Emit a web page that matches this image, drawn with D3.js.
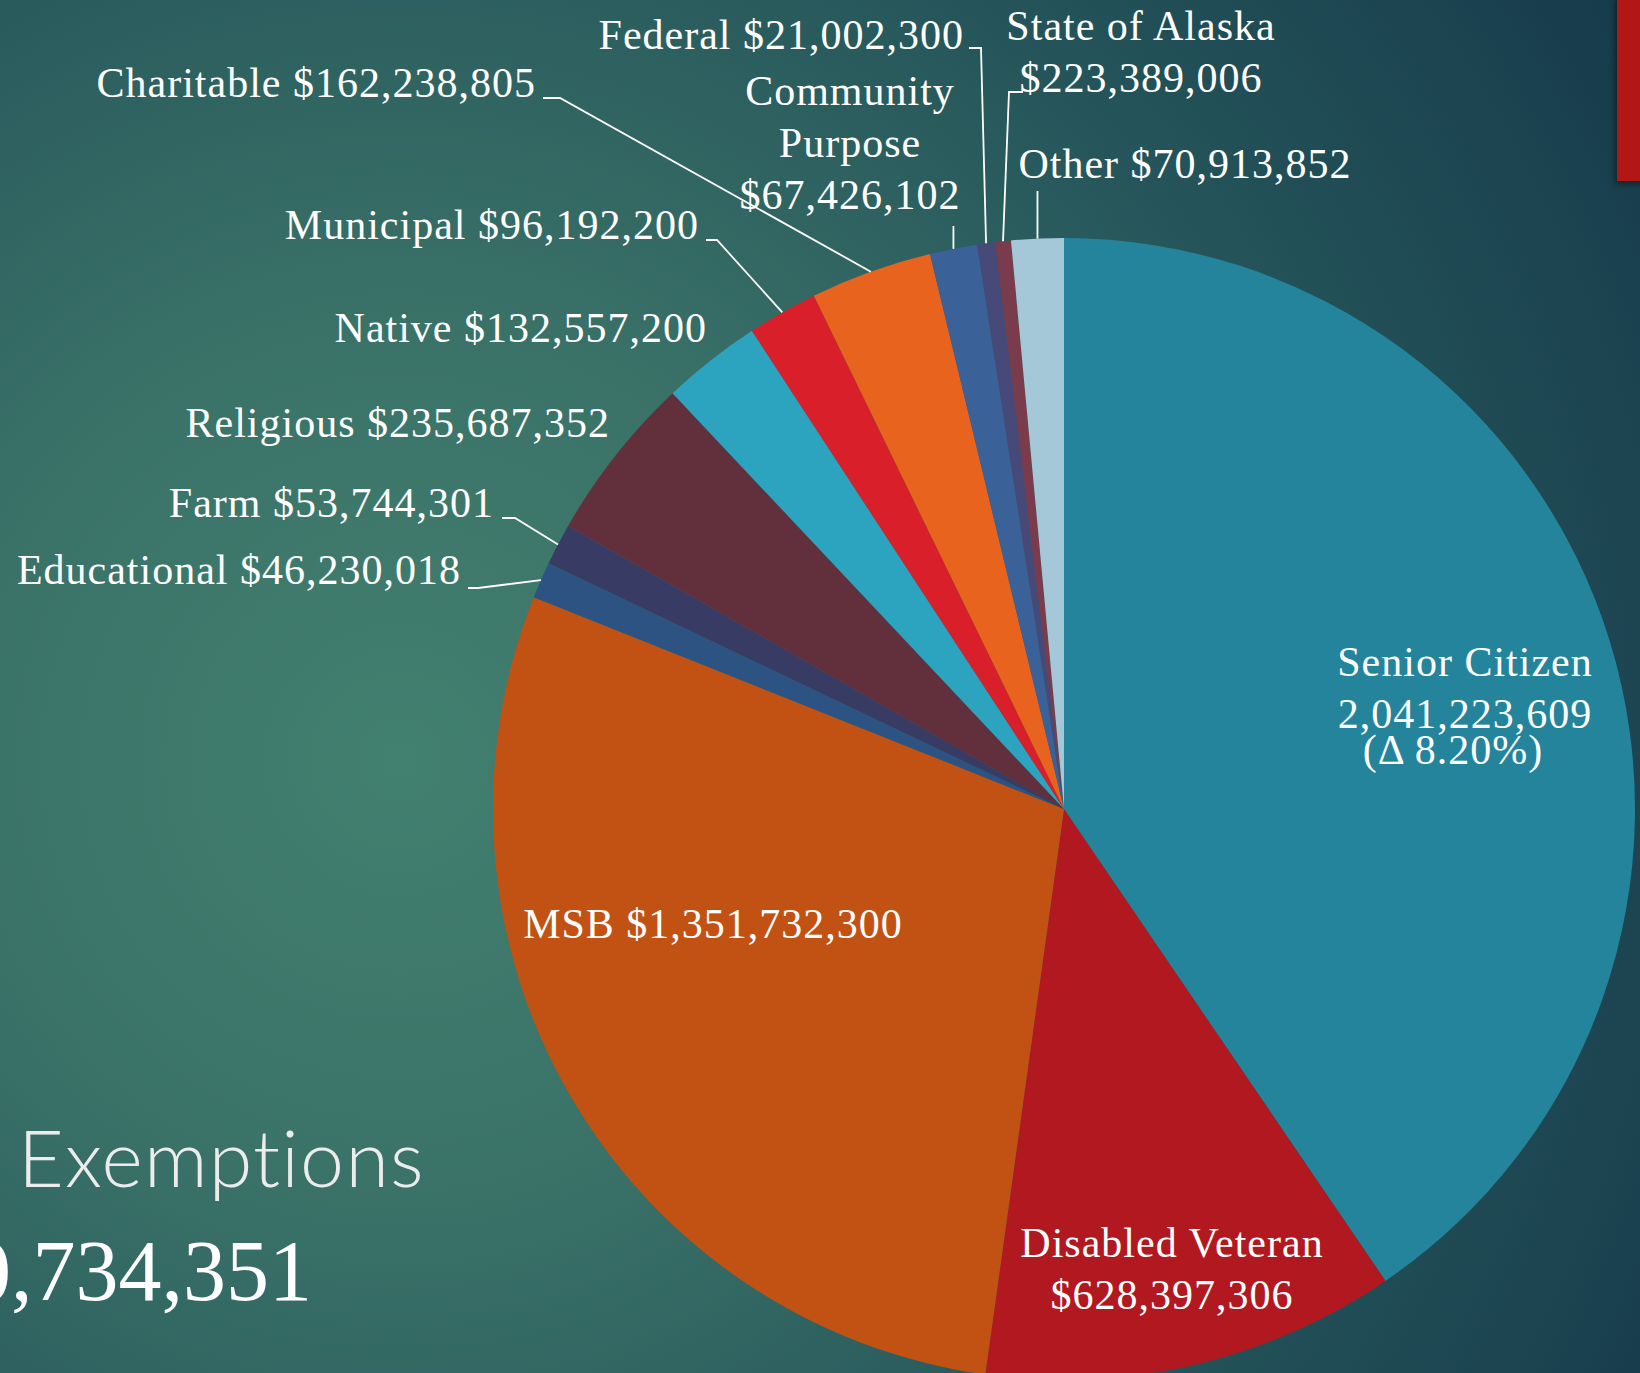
<!DOCTYPE html>
<html>
<head>
<meta charset="utf-8">
<script src="https://cdn.jsdelivr.net/npm/d3@7"></script>
<style>
  html, body { margin: 0; padding: 0; background: #1d4a52; overflow: hidden; }
  svg { display: block; }
</style>
</head>
<body>
<svg id="chart"></svg>
<script>
// exemption categories, clockwise from 12 o'clock
const categories = ['Senior Citizen', 'Disabled Veteran', 'MSB', 'Educational', 'Farm', 'Religious',
  'Native', 'Municipal', 'Charitable', 'Community Purpose', 'Federal', 'State of Alaska', 'Other'];
// amounts as printed on the labels ($)
const amounts = [2041223609, 628397306, 1351732300, 46230018, 53744301, 235687352,
  132557200, 96192200, 162238805, 67426102, 21002300, 223389006, 70913852];
// wedge sizes as drawn ($ millions) - State of Alaska is only a sliver
const sliceValues = [1997, 578, 1423, 51, 58, 233, 139, 98, 170, 66, 25, 22, 73];
const sliceColors = ['#23849c', '#b2181f', '#c25214', '#2d5383', '#383b63', '#62303d',
  '#2ca3bf', '#d81f2a', '#e8641e', '#3a6299', '#474a78', '#7a3b4c', '#a5c8d8'];
const seniorChange = '(Δ 8.20%)';
const titleText = 'Exemptions';

const width = 1640;
const height = 1373;
const cx = 1064, cy = 809, radius = 571;

const fmtMoney = d3.format('$,');
const fmtPlain = d3.format(',');

// text of each label, one entry per line
const labelLines = [
  [categories[0], fmtPlain(amounts[0]), seniorChange],
  [categories[1], fmtMoney(amounts[1])],
  [categories[2] + ' ' + fmtMoney(amounts[2])],
  [categories[3] + ' ' + fmtMoney(amounts[3])],
  [categories[4] + ' ' + fmtMoney(amounts[4])],
  [categories[5] + ' ' + fmtMoney(amounts[5])],
  [categories[6] + ' ' + fmtMoney(amounts[6])],
  [categories[7] + ' ' + fmtMoney(amounts[7])],
  [categories[8] + ' ' + fmtMoney(amounts[8])],
  ['Community', 'Purpose', fmtMoney(amounts[9])],
  [categories[10] + ' ' + fmtMoney(amounts[10])],
  [categories[11], fmtMoney(amounts[11])],
  [categories[12] + ' ' + fmtMoney(amounts[12])]
];

// where each label sits (x, baselines) and how its leader runs
const labelLayout = [
  {x: 1465, ys: [676, 728, 764], xs: [1465, 1465, 1453], anchor: 'middle'},
  {x: 1172, ys: [1257, 1309], anchor: 'middle'},
  {x: 713, ys: [938], anchor: 'middle'},
  {x: 461, ys: [584], anchor: 'end', leader: {x0: 468, y0: 588, x1: 478}},
  {x: 494, ys: [517], anchor: 'end', leader: {x0: 502, y0: 518, x1: 515}},
  {x: 610, ys: [437], anchor: 'end'},
  {x: 707, ys: [342], anchor: 'end'},
  {x: 699, ys: [239], anchor: 'end', leader: {x0: 706, y0: 240, x1: 717}},
  {x: 536, ys: [97], anchor: 'end', leader: {x0: 543, y0: 98, x1: 560}},
  {x: 850, ys: [105, 157, 209], anchor: 'middle', leader: {y0: 226, vertical: true}},
  {x: 964, ys: [49], anchor: 'end', leader: {x0: 969, y0: 48, x1: 981}},
  {x: 1141, ys: [40, 92], anchor: 'middle', leader: {x0: 1023, y0: 92, x1: 1009}},
  {x: 1185, ys: [178], anchor: 'middle', leader: {y0: 191, vertical: true}}
];

const svg = d3.select('#chart')
  .attr('width', width)
  .attr('height', height);

// background
const defs = svg.append('defs');
const bg = defs.append('radialGradient')
  .attr('id', 'bg')
  .attr('gradientUnits', 'userSpaceOnUse')
  .attr('cx', 400).attr('cy', 760).attr('r', 1450);
bg.append('stop').attr('offset', 0).attr('stop-color', '#42806f');
bg.append('stop').attr('offset', 0.3).attr('stop-color', '#3a7268');
bg.append('stop').attr('offset', 0.65).attr('stop-color', '#25555a');
bg.append('stop').attr('offset', 1).attr('stop-color', '#163a4b');

const shadow = defs.append('filter').attr('id', 'shadow')
  .attr('x', '-50%').attr('y', '-10%').attr('width', '200%').attr('height', '130%');
shadow.append('feDropShadow')
  .attr('dx', -2).attr('dy', 3).attr('stdDeviation', 3)
  .attr('flood-color', '#000').attr('flood-opacity', 0.45);

svg.append('rect')
  .attr('width', width).attr('height', height)
  .attr('fill', 'url(#bg)');

// red accent bar top right
svg.append('rect')
  .attr('x', 1617).attr('y', -5)
  .attr('width', 40).attr('height', 186)
  .attr('fill', '#b21616')
  .attr('filter', 'url(#shadow)');

// pie
const pie = d3.pie().sort(null).value(d => d.value);
const arcs = pie(sliceValues.map((v, i) => ({value: v, name: categories[i], color: sliceColors[i]})));
const arc = d3.arc().innerRadius(0).outerRadius(radius);

const g = svg.append('g').attr('transform', `translate(${cx},${cy})`);
g.selectAll('path')
  .data(arcs)
  .enter().append('path')
  .attr('d', arc)
  .attr('fill', d => d.data.color);

// point on the rim at the middle of a wedge
function rimPoint(d) {
  const a = (d.startAngle + d.endAngle) / 2;
  return [cx + radius * Math.sin(a), cy - radius * Math.cos(a)];
}

// leader lines
const leaders = svg.append('g')
  .attr('fill', 'none')
  .attr('stroke', '#ffffff')
  .attr('stroke-width', 1.8);

labelLayout.forEach((lay, i) => {
  if (!lay.leader) return;
  const p = rimPoint(arcs[i]);
  const l = lay.leader;
  const path = l.vertical
    ? `M${p[0]},${l.y0}L${p[0]},${p[1]}`
    : `M${l.x0},${l.y0}H${l.x1}L${p[0]},${p[1]}`;
  leaders.append('path').attr('d', path);
});

// labels
const labels = svg.append('g')
  .attr('font-family', '"Liberation Serif", "Times New Roman", serif')
  .attr('font-size', 42)
  .attr('letter-spacing', 1)
  .attr('fill', '#ffffff');

labelLayout.forEach((lay, i) => {
  labelLines[i].forEach((line, j) => {
    labels.append('text')
      .attr('x', lay.xs ? lay.xs[j] : lay.x)
      .attr('y', lay.ys[j])
      .attr('text-anchor', lay.anchor)
      .text(line);
  });
});

// slide title fragment and total
svg.append('text')
  .attr('x', 18).attr('y', 1187)
  .attr('font-family', 'Lato, "Open Sans", sans-serif')
  .attr('font-weight', 300)
  .attr('font-size', 79)
  .attr('letter-spacing', 1.2)
  .attr('fill', '#ececec')
  .text(titleText);

svg.append('text')
  .attr('x', 312).attr('y', 1300)
  .attr('text-anchor', 'end')
  .attr('font-family', '"Liberation Serif", "Times New Roman", serif')
  .attr('font-size', 86)
  .attr('fill', '#ffffff')
  .text(fmtMoney(d3.sum(amounts)));
</script>
</body>
</html>
